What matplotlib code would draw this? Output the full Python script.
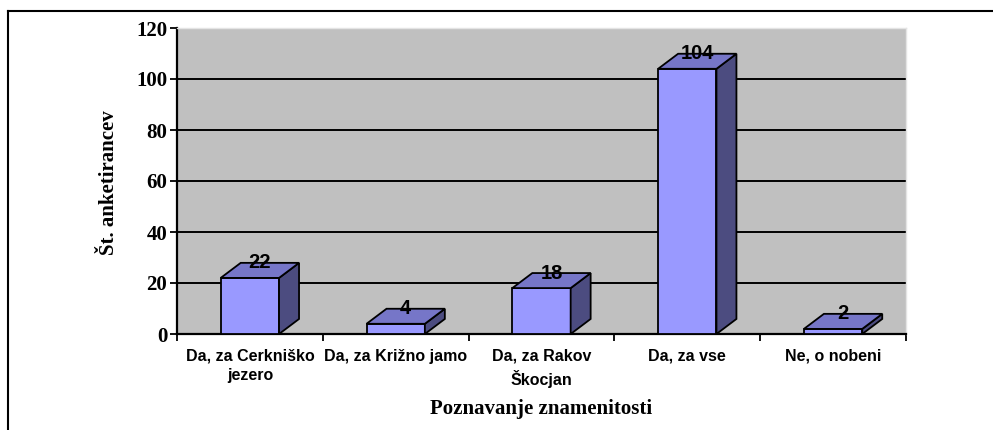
import matplotlib
matplotlib.use('Agg')
import matplotlib.pyplot as plt
from matplotlib.patches import Polygon
from matplotlib.lines import Line2D
import numpy as np

# data
categories = ['Da, za Cerkniško\njezero', 'Da, za Križno jamo', 'Da, za Rakov\nŠkocjan',
              'Da, za vse', 'Ne, o nobeni']
counts = [22, 4, 18, 104, 2]
y_ticks = [0, 20, 40, 60, 80, 100, 120]

FRONT = '#9999ff'
TOP = '#7676c8'
SIDE = '#4c4c80'
SERIF = 'Liberation Serif'
SANS = 'Liberation Sans'

W, H = 993, 430
fig = plt.figure(figsize=(W / 100, H / 100), dpi=100)
ax = fig.add_axes([177 / W, 1 - 334 / H, (906 - 177) / W, (334 - 28) / H])
ax.set_facecolor('#c0c0c0')
ax.set_xlim(0, len(categories))
ax.set_ylim(0, 120)

# gridlines on the back wall (not at the top edge)
ax.hlines(y_ticks[1:-1], 0, len(categories), colors='black', linewidth=1.4, zorder=1)

# fake 3d boxes: depth in data units
w = 0.4
dx, dy = 0.137, 5.9
x = np.arange(len(categories)) + 0.5
ax.bar(x, counts, width=w, color=FRONT, edgecolor='black', linewidth=1.3, zorder=3)
for xi, h in zip(x, counts):
    x0, x1 = xi - w / 2, xi + w / 2
    top = Polygon([(x0, h), (x1, h), (x1 + dx, h + dy), (x0 + dx, h + dy)],
                  closed=True, facecolor=TOP, edgecolor='black', linewidth=1.3, zorder=3)
    side = Polygon([(x1, 0), (x1, h), (x1 + dx, h + dy), (x1 + dx, dy)],
                   closed=True, facecolor=SIDE, edgecolor='black', linewidth=1.3, zorder=3)
    ax.add_patch(side)
    ax.add_patch(top)
    ax.text(xi + dx / 2, h + dy, str(h), ha='center', va='center', fontsize=14.5,
            fontweight='bold', family=SANS, zorder=5)

# spines
for s in ['left', 'bottom']:
    ax.spines[s].set_color('black')
    ax.spines[s].set_linewidth(1.6)
for s in ['top', 'right']:
    ax.spines[s].set_color('#e4e4e4')
    ax.spines[s].set_linewidth(1.0)

ax.set_yticks(y_ticks)
ax.set_yticklabels([str(t) for t in y_ticks], fontsize=15, fontweight='bold', family=SERIF)
ax.tick_params(axis='y', direction='out', length=5, width=1.3, pad=2)

ax.set_xticks(range(len(categories) + 1))
ax.set_xticklabels([])
ax.tick_params(axis='x', which='major', direction='out', length=5, width=1.3)

# category names as plain text under each box so both lines stay centred
for xi, name in zip(x, categories):
    ax.annotate(name, xy=(xi, 0), xycoords=('data', 'axes fraction'),
                xytext=(0, -10.5), textcoords='offset points', ha='center', va='top',
                multialignment='center', fontsize=11.5, fontweight='bold',
                family=SANS, linespacing=1.4)

fig.text(541.5 / W, 1 - 409 / H, 'Poznavanje znamenitosti', ha='center', va='center',
         fontsize=15, fontweight='bold', family=SERIF)
fig.text(109 / W, 1 - 182.5 / H, 'Št. anketirancev', ha='center', va='center',
         rotation=90, fontsize=15, fontweight='bold', family=SERIF)

# outer chart frame (cropped on right and bottom)
fig.add_artist(Line2D([8 / W, 8 / W], [0, 1 - 11 / H], color='black', linewidth=1.5,
                      transform=fig.transFigure))
fig.add_artist(Line2D([8 / W, 1], [1 - 11 / H, 1 - 11 / H], color='black', linewidth=1.5,
                      transform=fig.transFigure))

fig.savefig('out.png', dpi=100)
